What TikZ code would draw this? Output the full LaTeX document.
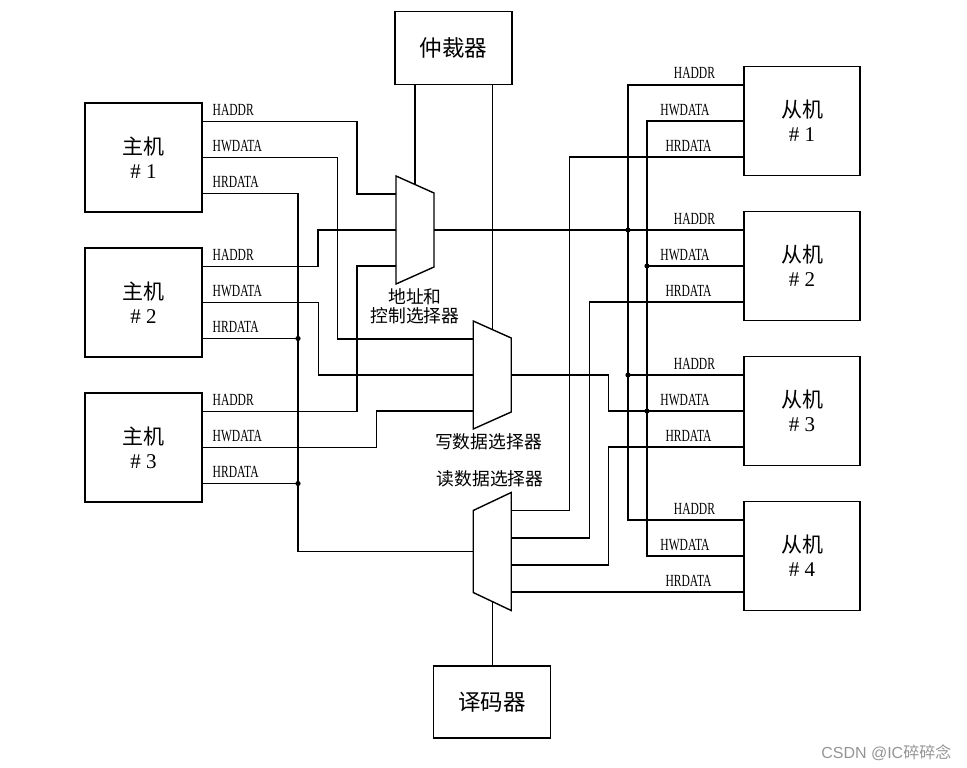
\documentclass[tikz,border=0pt]{standalone}
\usepackage{fontspec}
\setmainfont{Noto Sans CJK SC}
\newfontfamily\sigfont[FakeStretch=0.68]{Liberation Serif}
\newfontfamily\numfont{Liberation Serif}
\newfontfamily\wmfont{Liberation Sans}
\usetikzlibrary{positioning,calc}

\tikzset{
  box/.style={draw, outer sep=0pt, minimum width=117pt, minimum height=109pt, align=center, font=\fontsize{21}{24}\selectfont},
  ctrl/.style={draw, outer sep=0pt, minimum width=117pt, minimum height=73pt, font=\fontsize{22.5}{24}\selectfont},
  sig/.style={font=\sigfont\fontsize{17}{17}\selectfont, inner sep=0pt},
  lbl/.style={font=\fontsize{17.8}{19}\selectfont, align=center, inner sep=0pt},
}

\begin{document}
\begin{tikzpicture}[x=1pt, y=-1pt, line width=1.4pt]
    \useasboundingbox (0,0) rectangle (967,768);

    % Masters
    \node[box] (m1) at (143.5,157.5) {主机\\{\numfont\#~1}};
    \node[box, below=36pt of m1] (m2) {主机\\{\numfont\#~2}};
    \node[box, below=36pt of m2] (m3) {主机\\{\numfont\#~3}};

    % Slaves
    \node[box, minimum width=116pt] (s1) at (802,121) {从机\\{\numfont\#~1}};
    \node[box, minimum width=116pt, below=36pt of s1] (s2) {从机\\{\numfont\#~2}};
    \node[box, minimum width=116pt, below=36pt of s2] (s3) {从机\\{\numfont\#~3}};
    \node[box, minimum width=116pt, below=36pt of s3] (s4) {从机\\{\numfont\#~4}};

    % Arbiter and decoder
    \node[ctrl] (arb) at (453.6,48.3) {仲裁器};
    \node[ctrl, minimum height=72pt] (dec) at (492.2,702) {译码器};

    % Pins of masters and slaves
    \foreach \i in {1,2,3} {
        \coordinate (m\i-a) at ($(m\i.east)+(0,-36)$);
        \coordinate (m\i-w) at (m\i.east);
        \coordinate (m\i-r) at ($(m\i.east)+(0,36)$);
        \node[sig, anchor=base west] (m\i-la) at ([xshift=10pt,yshift=6pt]m\i-a) {HADDR};
        \node[sig, anchor=base west] (m\i-lw) at ([xshift=10pt,yshift=6pt]m\i-w) {HWDATA};
        \node[sig, anchor=base west] (m\i-lr) at ([xshift=10pt,yshift=6pt]m\i-r) {HRDATA};
    }
    \foreach \i in {1,2,3,4} {
        \coordinate (s\i-a) at ($(s\i.west)+(0,-36)$);
        \coordinate (s\i-w) at (s\i.west);
        \coordinate (s\i-r) at ($(s\i.west)+(0,36)$);
        \node[sig, anchor=base] (s\i-la) at ([xshift=-49.5pt,yshift=6pt]s\i-a) {HADDR};
        \node[sig, anchor=base] (s\i-lw) at ([xshift=-59pt,yshift=6pt]s\i-w) {HWDATA};
        \node[sig, anchor=base] (s\i-lr) at ([xshift=-55.5pt,yshift=6pt]s\i-r) {HRDATA};
    }

    % Address and control mux
    \coordinate (am) at (415,230);
    \draw (am) ++(-19,-54) -- ++(38,17) -- ++(0,74) -- ++(-38,17) -- cycle;
    \coordinate (am-1) at ($(am)+(-19,-36)$);
    \coordinate (am-2) at ($(am)+(-19,0)$);
    \coordinate (am-3) at ($(am)+(-19,36)$);
    \coordinate (am-o) at ($(am)+(19,0)$);
    \coordinate (am-t) at ($(am)+(0,-45.5)$);
    \node[lbl] (am-l) at (415,306) {地址和\\控制选择器};

    % Write data mux
    \coordinate (wm) at (492.2,375);
    \draw (wm) ++(-19,-54) -- ++(38,17) -- ++(0,74) -- ++(-38,17) -- cycle;
    \coordinate (wm-1) at ($(wm)+(-19,-36)$);
    \coordinate (wm-2) at ($(wm)+(-19,0)$);
    \coordinate (wm-3) at ($(wm)+(-19,36)$);
    \coordinate (wm-o) at ($(wm)+(19,0)$);
    \coordinate (wm-t) at ($(wm)+(0,-45.5)$);
    \node[lbl] (wm-l) at (488.5,441.7) {写数据选择器};

    % Read data mux
    \coordinate (rm) at (492.2,551.5);
    \draw (rm) ++(-19,-41) -- ++(38,-18) -- ++(0,118) -- ++(-38,-18) -- cycle;
    \coordinate (rm-1) at ($(rm)+(19,-41)$);
    \coordinate (rm-2) at ($(rm)+(19,-13.5)$);
    \coordinate (rm-3) at ($(rm)+(19,13.5)$);
    \coordinate (rm-4) at ($(rm)+(19,41)$);
    \coordinate (rm-o) at ($(rm)+(-19,0)$);
    \coordinate (rm-b) at ($(rm)+(0,50.5)$);
    \node[lbl] (rm-l) at (490,479) {读数据选择器};

    % Bus columns
    \coordinate (rb) at (298,0);
    \coordinate (ab) at (628,0);
    \coordinate (wb) at (647,0);

    % Masters to muxes
    \draw (m1-a) -| ([xshift=-39pt]am-1) -- (am-1);
    \draw (m2-a) -| ([xshift=-78pt]am-2) -- (am-2);
    \draw (m3-a) -| ([xshift=-39pt]am-3) -- (am-3);
    \draw (m1-w) -| ([xshift=-136pt]wm-1) -- (wm-1);
    \draw (m2-w) -| ([xshift=-155pt]wm-2) -- (wm-2);
    \draw (m3-w) -| ([xshift=-97pt]wm-3) -- (wm-3);
    \draw (m1-r) -| (rb |- rm-o) -- (rm-o);
    \draw (m2-r) -- (m2-r -| rb);
    \draw (m3-r) -- (m3-r -| rb);
    \fill (m2-r -| rb) circle (2.6pt);
    \fill (m3-r -| rb) circle (2.6pt);

    % Muxes to slaves
    \draw (am-o) -- (s2-a);
    \draw (s1-a) -| (ab |- s4-a) -- (s4-a);
    \draw (s3-a -| ab) -- (s3-a);
    \fill (s2-a -| ab) circle (2.6pt);
    \fill (s3-a -| ab) circle (2.6pt);
    \draw (wm-o) -| ([xshift=-135.3pt]s3-w) -- (s3-w);
    \draw (s1-w) -| (wb |- s4-w) -- (s4-w);
    \draw (s2-w -| wb) -- (s2-w);
    \fill (s2-w -| wb) circle (2.6pt);
    \fill (s3-w -| wb) circle (2.6pt);
    \draw (s1-r) -| ([xshift=58.3pt]rm-1) -- (rm-1);
    \draw (s2-r) -| ([xshift=78.3pt]rm-2) -- (rm-2);
    \draw (s3-r) -| ([xshift=97pt]rm-3) -- (rm-3);
    \draw (s4-r) -- (s4-r -| rm-4);

    % Arbiter and decoder lines
    \draw (arb.south -| am-t) -- (am-t);
    \draw (arb.south -| wm-t) -- (wm-t);
    \draw (rm-b) -- (dec.north -| rm-b);

    % Watermark
    \node[anchor=east, text=black!42, font=\fontsize{16}{16}\selectfont, inner sep=0pt] (wmk) at (952,752.7) {{\wmfont CSDN @IC}碎碎念};
\end{tikzpicture}
\end{document}
